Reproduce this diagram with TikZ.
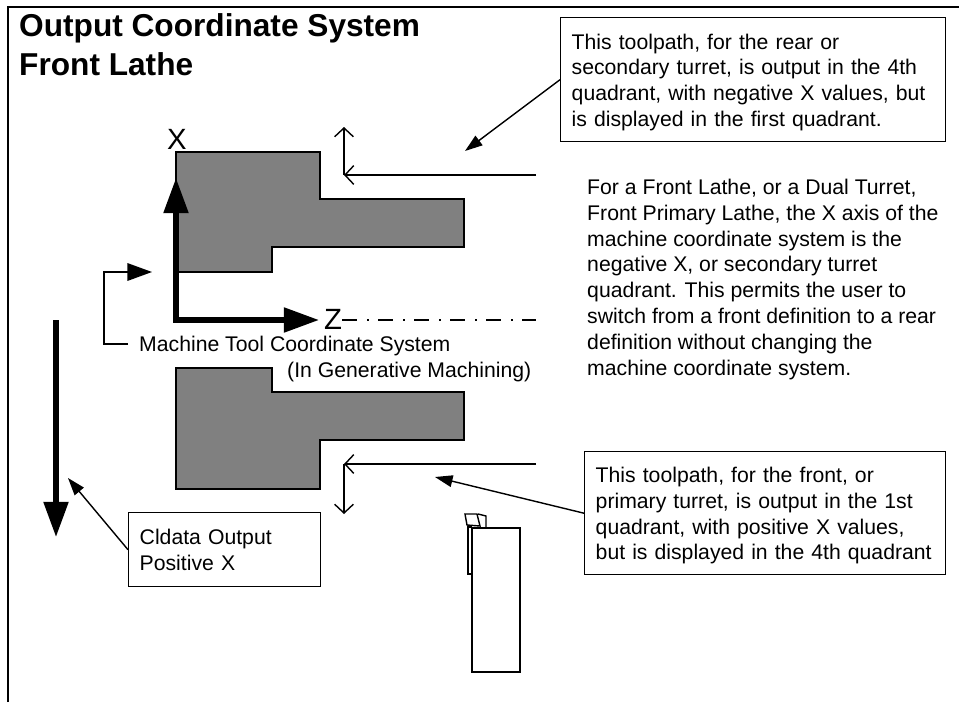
\documentclass[tikz,border=0pt]{standalone}
\usepackage{fontspec}
\setmainfont{Liberation Sans}
\usetikzlibrary{arrows.meta}
\tikzset{
  outline/.style={line width=1.2pt, line join=miter},
  part/.style={outline, fill=partgray},
  body/.style={font=\fontsize{18.1}{22}\selectfont, inner sep=0pt, align=left},
  callout/.style={body, draw, line width=1.2pt, inner xsep=.33cm, anchor=north west},
  sidenote/.style={callout, execute at begin node=\rule{0pt}{17.5pt}},
  pointer/.style={line width=1.2pt, -{Triangle[length=15pt,width=10pt]}},
  toolpath/.style={line width=1.2pt, -{Straight Barb[length=7.5pt,width=16pt]}},
  axis/.style={line width=4.5pt, -{Triangle[length=30pt,width=20.5pt]}},
  axislabel/.style={font=\fontsize{25}{25}\selectfont, inner sep=0pt, text height=17.9pt, text depth=0pt}
}
\definecolor{partgray}{HTML}{808080}
\begin{document}
\begin{tikzpicture}[x=0.03cm, y=-0.03cm]
  \useasboundingbox (0,0) rectangle (959,702);

  % Cadre
  \draw[outline] (8,702) -- (8,7) -- (959,7);
  \node[anchor=north west, inner sep=0pt, align=left, font=\fontsize{27}{34}\bfseries\selectfont] (title) at (19,13) {Output Coordinate System\\Front Lathe};

  % Pieces
  \draw[part] (176,152) -- (320,152) -- (320,199) -- (464,199) -- (464,247) -- (272,247) -- (272,272) -- (176,272) -- cycle;
  \draw[part] (176,368) -- (272,368) -- (272,392) -- (464,392) -- (464,440) -- (320,440) -- (320,489) -- (176,489) -- cycle;

  % Axes
  \coordinate (origin) at (176,320);
  \coordinate (xtip) at (176,178);
  \coordinate (ztip) at (319,320);
  \coordinate (axisend) at (536,320);
  \node[axislabel] (xlabel) at (177,139) {X};
  \node[axislabel] (zlabel) at (333,319) {Z};
  \draw[axis] ([yshift=-2.25pt]origin) -- (xtip);
  \draw[axis] (origin) -- (ztip);
  \draw[line width=1.2pt, dash pattern=on 12.8pt off 8.5pt on 1.7pt off 7.7pt] (zlabel.east |- axisend) -- (axisend);

  % Sortie Cldata
  \coordinate (cltop) at (56,320);
  \coordinate (cltip) at (56,537);
  \coordinate (clnote) at (68,478);
  \draw[axis] (cltop) -- (cltip);
  \node[callout, text width=5.1cm, minimum height=2.22cm] (cldata) at (128,512) {Cldata Output\\Positive X};
  \draw[pointer] (cldata.west) -- (clnote);

  % Repere machine
  \node[body, anchor=west, inner xsep=.33cm, text depth=0pt] (machine) at (128,344) {Machine Tool Coordinate System};
  \node[body, anchor=west] (generative) at (287,372) {(In Generative Machining)};
  \coordinate (elbow) at (104,344);
  \coordinate (machinetip) at (152,272);
  \draw[line width=1.2pt, -{Triangle[length=21pt,width=15pt]}] (machine.west) -- (elbow) |- (machinetip);

  % Trajectoires
  \coordinate (rearstart) at (536,175);
  \coordinate (rearcorner) at (344,175);
  \coordinate (rearup) at (344,127);
  \coordinate (frontstart) at (536,464);
  \coordinate (frontcorner) at (344,464);
  \coordinate (frontdown) at (344,514);
  \draw[toolpath] (rearstart) -- (rearcorner);
  \draw[toolpath] (rearcorner) -- (rearup);
  \draw[toolpath] (frontstart) -- (frontcorner);
  \draw[toolpath] (frontcorner) -- (frontdown);

  % Notes
  \coordinate (reartip) at (465,151);
  \coordinate (fronttip) at (435,477);
  \node[sidenote, text width=10.89cm, minimum height=3.72cm] (rearnote) at (560,17) {This toolpath, for the rear or\\secondary turret, is output in the 4th\\quadrant, with negative X values, but\\is displayed in the first quadrant.};
  \node[sidenote, text width=10.17cm, minimum height=3.69cm] (frontnote) at (584,451) {This toolpath, for the front, or\\primary turret, is output in the 1st\\quadrant, with positive X values,\\but is displayed in the 4th quadrant};
  \draw[pointer] (rearnote.west) -- (reartip);
  \draw[pointer] (frontnote.west) -- (fronttip);
  \node[body, anchor=north west] (explain) at (587,179) {For a Front Lathe, or a Dual Turret,\\Front Primary Lathe, the X axis of the\\machine coordinate system is the\\negative X, or secondary turret\\quadrant. This permits the user to\\switch from a front definition to a rear\\definition without changing the\\machine coordinate system.};

  % Outil
  \draw[outline] (472,574) -- (468,574) -- (468,527) -- (472,527);
  \draw[outline] (472,528) rectangle (520,672);
  \draw[outline] (465,514) -- (477,514) -- (480,526) -- (467,525) -- cycle;
  \draw[outline] (478,514) -- (486,516) -- (486,528);
\end{tikzpicture}
\end{document}
